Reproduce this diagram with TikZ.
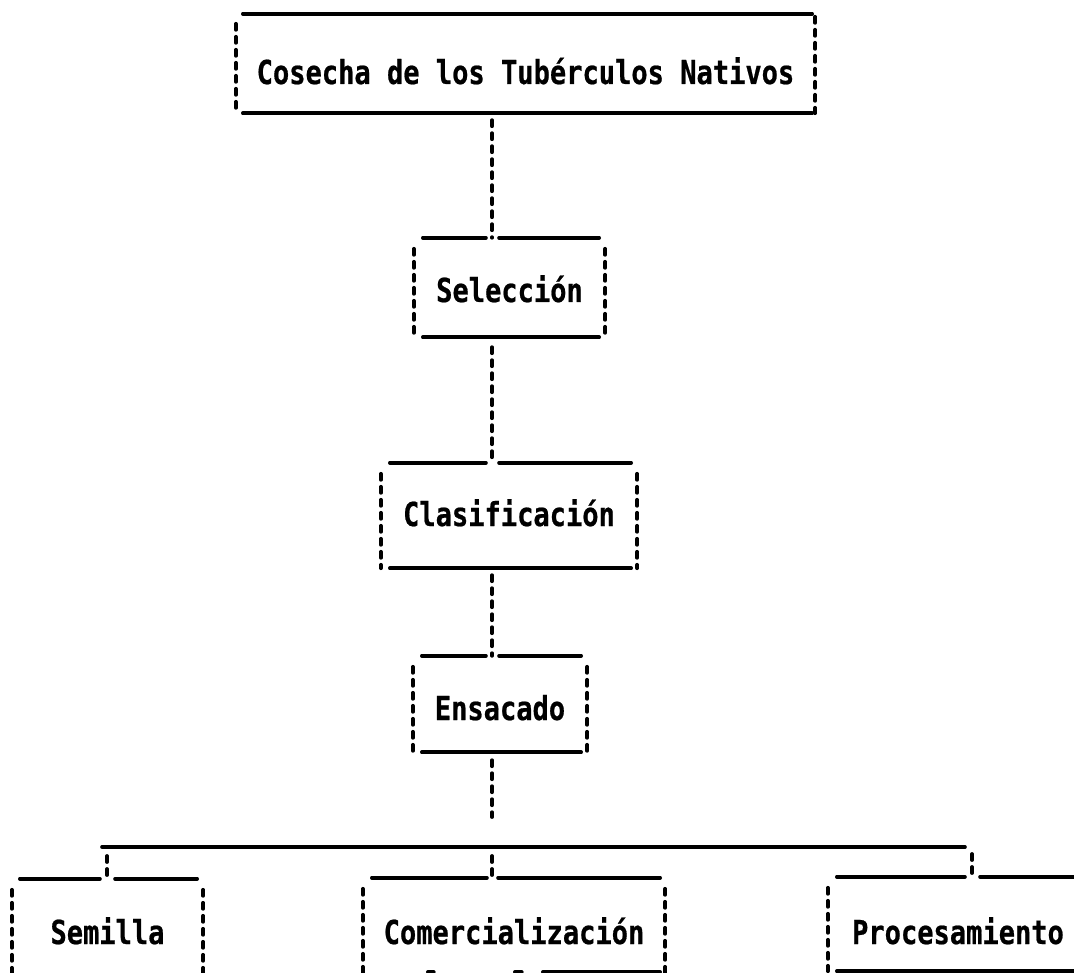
\documentclass[tikz,border=0pt]{standalone}
\usepackage{fontspec}
\newfontfamily\boxfont{DejaVu Sans Mono}[FakeStretch=0.82, BoldFeatures={FakeBold=0.6}]
\usetikzlibrary{calc}

\begin{document}
\begin{tikzpicture}[x=1pt,y=-1pt,
  stage/.style={rectangle, inner sep=0pt, text depth=0pt,
    font={\boxfont\bfseries\fontsize{33pt}{36pt}\selectfont}},
  rule/.style={line width=3.6pt, line cap=round},
  side/.style={line width=3.8pt, line cap=round, dash pattern=on 6pt off 7pt},
  link/.style={line width=3.8pt, line cap=round, dash pattern=on 6pt off 7pt}]

% page
\fill[white] (0,0) rectangle (1074,973);
\useasboundingbox (0,0) rectangle (1074,973);
\clip (0,0) rectangle (1074,973);

% main column and the branch points
\coordinate (sp) at (492,0);
\coordinate (busL) at (102,847);
\coordinate (busR) at (965,847);
\coordinate (t1) at (107,856);
\coordinate (t2) at (492,856);
\coordinate (t3) at (972,854);

% stages
\node[stage, minimum width=579pt, minimum height=99pt, text height=41pt] (cos) at (525.5,63.5) {Cosecha de los Tubérculos Nativos};
\node[stage, minimum width=191pt, minimum height=99pt, text height=29pt] (sel) at (509.5,287.5) {Selección};
\node[stage, minimum width=256pt, minimum height=105pt, text height=21pt] (cla) at (509,515.5) {Clasificación};
\node[stage, minimum width=174pt, minimum height=96pt, text height=32pt] (ens) at (500,704) {Ensacado};
\node[stage, minimum width=191pt, minimum height=93pt, text height=37pt] (sem) at (107.5,925.5) {Semilla};
\node[stage, minimum width=302pt, minimum height=94pt, text height=38pt] (com) at (514,925) {Comercialización};
\node[stage, minimum width=260pt, minimum height=94pt, text height=40pt] (pro) at (958,924) {Procesamiento};

% top stage: full rules, dashed sides
\draw[rule] ($(cos.north west)+(7,0)$) -- ($(cos.north east)+(-3,0)$);
\draw[rule] ($(cos.south west)+(7,0)$) -- ($(cos.south east)+(-3,0)$);
\draw[side] ($(cos.north west)+(0,10)$) -- (cos.south west);
\draw[side] ($(cos.north east)+(0,3)$) -- (cos.south east);

% middle stages: top rule broken where the column enters
\foreach \s in {sel,cla,ens}{
  \draw[rule] ($(\s.north west)+(9,0)$) -- ($(\s.north -| sp)+(-6,0)$);
  \draw[rule] ($(\s.north -| sp)+(7,0)$) -- ($(\s.north east)+(-6,0)$);
  \draw[rule] ($(\s.south west)+(9,0)$) -- ($(\s.south east)+(-6,0)$);
  \draw[side] ($(\s.north west)+(0,11)$) -- (\s.south west);
  \draw[side] ($(\s.north east)+(0,11)$) -- (\s.south east);
}

% column links
\draw[link] ($(cos.south -| sp)+(0,7)$) -- (sel.north -| sp);
\draw[link] ($(sel.south -| sp)+(0,10)$) -- (cla.north -| sp);
\draw[link] ($(cla.south -| sp)+(0,7)$) -- (ens.north -| sp);
\draw[link] ($(ens.south -| sp)+(0,8)$) -- ($(busL -| sp)+(0,-30)$);

% branch bar and drops
\draw[rule] (busL) -- (busR);
\draw[link] (t1) -- (sem.north -| t1);
\draw[link] (t2) -- (com.north -| t2);
\draw[link] (t3) -- (pro.north -| t3);

% Semilla
\draw[rule] ($(sem.north west)+(8,0)$) -- ($(sem.north -| t1)+(-7,0)$);
\draw[rule] ($(sem.north -| t1)+(8,0)$) -- ($(sem.north east)+(-6,0)$);
\draw[side] ($(sem.north west)+(0,11)$) -- ($(sem.south west)+(0,4)$);
\draw[side] ($(sem.north east)+(0,11)$) -- ($(sem.south east)+(0,4)$);

% Comercialización
\draw[rule] ($(com.north west)+(9,0)$) -- ($(com.north -| t2)+(-5,0)$);
\draw[rule] ($(com.north -| t2)+(6,0)$) -- ($(com.north east)+(-5,0)$);
\draw[side] ($(com.north west)+(0,11)$) -- ($(com.south west)+(0,3)$);
\draw[side] ($(com.north east)+(0,11)$) -- ($(com.south east)+(0,3)$);
\draw[rule] ($(com.south west)+(65,0)$) -- ++(6,0);
\draw[rule] ($(com.south west)+(152,0)$) -- ++(7,0);
\draw[rule] ($(com.south west)+(180,0)$) -- ($(com.south east)+(-5,0)$);

% Procesamiento
\draw[rule] ($(pro.north west)+(9,0)$) -- ($(pro.north -| t3)+(-7,0)$);
\draw[rule] ($(pro.north -| t3)+(8,0)$) -- ($(pro.north east)+(-6,0)$);
\draw[rule] ($(pro.south west)+(9,0)$) -- ($(pro.south east)+(-6,0)$);
\draw[side] ($(pro.north west)+(0,11)$) -- (pro.south west);
\end{tikzpicture}
\end{document}
